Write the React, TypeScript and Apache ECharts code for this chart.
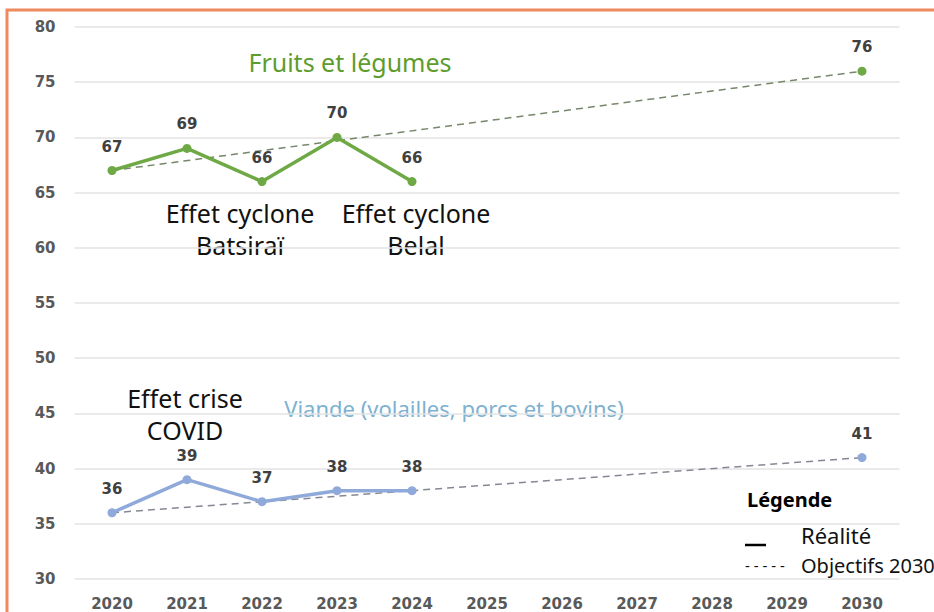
import React, { useEffect, useRef } from "react";
import * as echarts from "echarts";

const years = ["2020", "2021", "2022", "2023", "2024", "2025", "2026", "2027", "2028", "2029", "2030"];
const fruitsReal = [67, 69, 66, 70, 66];
const fruitsTargetStart = 67;
const fruitsTarget2030 = 76;
const viandeReal = [36, 39, 37, 38, 38];
const viandeTargetStart = 36;
const viandeTarget2030 = 41;

const GREEN = "#6FA946";
const BLUE = "#8FA9DA";
const LABEL = "#404040";

function target(start: number, end: number) {
  return years.map((_, i) => {
    if (i === 0) return { value: start, symbol: "none", label: { show: false } };
    if (i === years.length - 1) return { value: end, label: { show: true } };
    return null;
  });
}

export default function App() {
  const ref = useRef<HTMLDivElement>(null);
  useEffect(() => {
    if (!ref.current) return;
    const chart = echarts.init(ref.current, null, { renderer: "svg" });
    const valueLabel = {
      show: true,
      position: "top" as const,
      distance: 12,
      color: LABEL,
      fontSize: 15,
      fontWeight: "bold" as const,
      fontFamily: "DejaVu Sans",
    };
    const annot = (text: string, x: number, y: number, color: string, size: number, extra: any = {}) => ({
      type: "text",
      x,
      y,
      style: {
        text,
        x: 0,
        y: 0,
        fill: color,
        font: `${size}px "Noto Sans"`,
        align: "center",
        verticalAlign: "middle",
        ...extra,
      },
    });
    chart.setOption({
      animation: false,
      backgroundColor: "#ffffff",
      grid: { left: 74.5, right: 34.5, top: 27, bottom: 33 },
      xAxis: {
        type: "category",
        data: years,
        boundaryGap: true,
        axisLine: { show: false },
        axisTick: { show: false },
        axisLabel: { color: "#595959", fontSize: 15, fontWeight: "bold", fontFamily: "DejaVu Sans", margin: 17 },
      },
      yAxis: {
        type: "value",
        min: 30,
        max: 80,
        interval: 5,
        axisLine: { show: false },
        axisTick: { show: false },
        axisLabel: { color: "#595959", fontSize: 15, fontWeight: "bold", fontFamily: "DejaVu Sans", margin: 19 },
        splitLine: { lineStyle: { color: "#e3e3e3", width: 1.5 } },
      },
      series: [
        {
          type: "line",
          data: target(fruitsTargetStart, fruitsTarget2030),
          connectNulls: true,
          symbol: "circle",
          symbolSize: 9,
          itemStyle: { color: GREEN },
          lineStyle: { color: "#77876a", width: 1.5, type: [7, 5] },
          label: { ...valueLabel, show: false },
          z: 1,
        },
        {
          type: "line",
          data: target(viandeTargetStart, viandeTarget2030),
          connectNulls: true,
          symbol: "circle",
          symbolSize: 9,
          itemStyle: { color: BLUE },
          lineStyle: { color: "#858894", width: 1.5, type: [7, 5] },
          label: { ...valueLabel, show: false },
          z: 1,
        },
        {
          type: "line",
          data: fruitsReal,
          symbol: "circle",
          symbolSize: 9,
          itemStyle: { color: GREEN },
          lineStyle: { color: GREEN, width: 3.5 },
          label: valueLabel,
          z: 3,
        },
        {
          type: "line",
          data: viandeReal,
          symbol: "circle",
          symbolSize: 9,
          itemStyle: { color: BLUE },
          lineStyle: { color: BLUE, width: 3.5 },
          label: valueLabel,
          z: 3,
        },
      ],
      graphic: [
        {
          type: "rect",
          shape: { x: 7, y: 10, width: 1000, height: 800 },
          style: { fill: "none", stroke: "#EE8A5E", lineWidth: 3 },
          z: 10,
        },
        annot("Fruits et légumes", 350, 62, "#5E9C2E", 25),
        annot("Viande (volailles, porcs et bovins)", 454, 408, "#7DB1D1", 22),
        annot("Effet cyclone\nBatsiraï", 240, 229, "#111111", 25, { lineHeight: 32 }),
        annot("Effet cyclone\nBelal", 416, 229, "#111111", 25, { lineHeight: 32 }),
        annot("Effet crise\nCOVID", 185, 414, "#111111", 25, { lineHeight: 32 }),
        {
          type: "text",
          x: 747,
          y: 499,
          style: { text: "Légende", x: 0, y: 0, fill: "#000000", font: 'bold 20px "Noto Sans"', verticalAlign: "middle" },
        },
        {
          type: "text",
          x: 801,
          y: 535,
          style: { text: "Réalité", x: 0, y: 0, fill: "#111111", font: '22px "Noto Sans"', verticalAlign: "middle" },
        },
        {
          type: "line",
          shape: { x1: 745, y1: 545, x2: 766, y2: 545 },
          style: { stroke: "#000000", lineWidth: 2.5 },
        },
        {
          type: "text",
          x: 745,
          y: 565,
          style: { text: "- - - - -", x: 0, y: 0, fill: "#111111", font: '15px "Noto Sans"', verticalAlign: "middle" },
        },
        {
          type: "text",
          x: 801,
          y: 565,
          style: { text: "Objectifs 2030", x: 0, y: 0, fill: "#111111", font: '20px "Noto Sans"', verticalAlign: "middle" },
        },
      ],
    });
    return () => chart.dispose();
  }, []);
  return <div ref={ref} style={{ position: "fixed", left: 0, top: 0, width: 934, height: 612 }} />;
}
